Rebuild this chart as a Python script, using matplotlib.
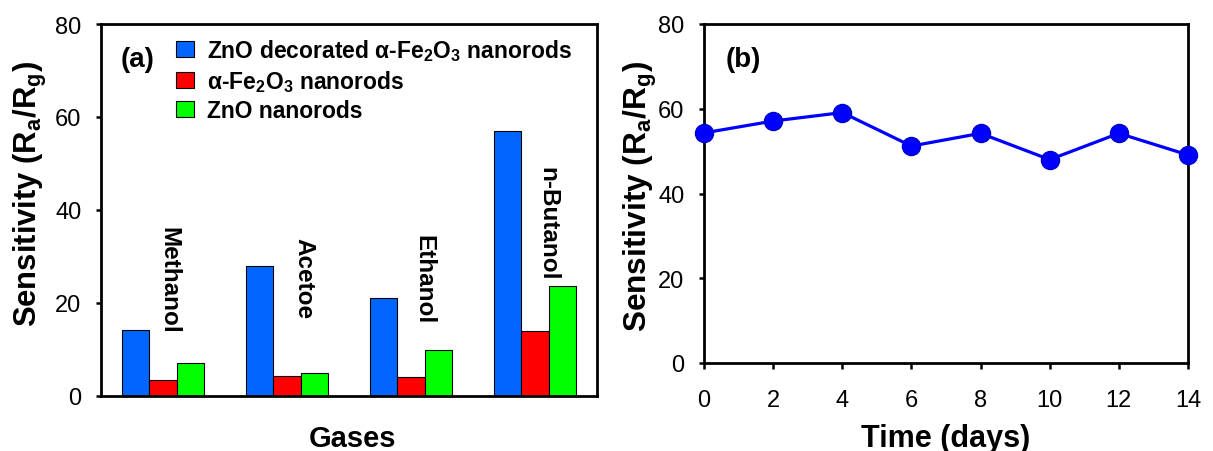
import matplotlib
matplotlib.use("Agg")
import matplotlib.pyplot as plt
import numpy as np

plt.rcParams['font.family'] = ['Liberation Sans', 'DejaVu Sans']
plt.rcParams['mathtext.fontset'] = 'custom'
plt.rcParams['mathtext.rm'] = 'Liberation Sans'
plt.rcParams['mathtext.bf'] = 'Liberation Sans:bold'

# panel (a) data
gases = ['Methanol', 'Acetoe', 'Ethanol', 'n-Butanol']
zno_fe2o3 = [14.3, 28.0, 21.0, 57.0]
fe2o3 = [3.5, 4.2, 4.0, 14.0]
zno = [7.0, 5.0, 10.0, 23.7]
series_labels = [r'ZnO decorated α-Fe$_\mathbf{2}$O$_\mathbf{3}$ nanorods',
                 r'α-Fe$_\mathbf{2}$O$_\mathbf{3}$ nanorods',
                 'ZnO nanorods']

# panel (b) data
days = [0, 2, 4, 6, 8, 10, 12, 14]
sensitivity = [54.3, 57.1, 59.1, 51.2, 54.2, 48.0, 54.2, 49.1]

colors = ['#0066FF', '#FF0000', '#00FF00']
W, H = 1213, 452
fig = plt.figure(figsize=(W / 100, H / 100), dpi=100)

ylab = r'Sensitivity (R$_\mathbf{a}$/R$_\mathbf{g}$)'

# ---- panel (a): grouped bars
ax1 = fig.add_axes([101 / W, 1 - 397 / H, 496 / W, 372 / H])
x = np.arange(len(gases))
bw = 0.22
for i, (vals, c, lab) in enumerate(zip([zno_fe2o3, fe2o3, zno], colors, series_labels)):
    ax1.bar(x + (i - 1) * bw, vals, bw, color=c, edgecolor='black', linewidth=0.8, label=lab)

# rotated gas names above groups
text_dx = [0.045, 0.14, 0.105, 0.105]
text_top = [36.6, 34.2, 34.8, 49.5]
for xi, name, dx, top in zip(x, gases, text_dx, text_top):
    ax1.text(xi + dx, top, name, rotation=-90, ha='center', va='top',
             fontsize=17.5, fontweight='bold')

ax1.set_xlim(-0.5, 3.5)
ax1.set_ylim(0, 80)
ax1.set_yticks([0, 20, 40, 60, 80])
ax1.set_xticks([])
ax1.tick_params(axis='y', direction='out', length=3.6, width=1.8, labelsize=17, pad=10.5)
ax1.legend(loc='upper left', bbox_to_anchor=(0.151, 0.965), frameon=False,
           prop={'weight': 'bold', 'size': 16.5}, borderpad=0, borderaxespad=0,
           handlelength=0.77, handleheight=0.69, handletextpad=0.6, labelspacing=0.22)
ax1.text(0.04, 0.905, '(a)', transform=ax1.transAxes, fontsize=20, fontweight='bold',
         ha='left', va='center')

# ---- panel (b): stability line
ax2 = fig.add_axes([704 / W, 1 - 364 / H, 484 / W, 339 / H])
ax2.plot(days, sensitivity, color='#0000FF', linewidth=2.3, marker='o', markersize=13,
         markerfacecolor='#0000FF', markeredgecolor='#0000CC', clip_on=False, zorder=3)
ax2.set_xlim(0, 14)
ax2.set_ylim(0, 80)
ax2.set_xticks(days)
ax2.set_yticks([0, 20, 40, 60, 80])
ax2.tick_params(axis='y', direction='out', length=3.6, width=1.8, labelsize=17, pad=10.5)
ax2.tick_params(axis='x', direction='out', length=4.3, width=1.8, labelsize=17, pad=14.5)
ax2.text(0.045, 0.897, '(b)', transform=ax2.transAxes, fontsize=20, fontweight='bold',
         ha='left', va='center')

for ax in (ax1, ax2):
    for s in ax.spines.values():
        s.set_linewidth(2)

# axis titles
fig.text(30 / W, 1 - 194 / H, ylab, rotation=90, ha='center', va='center',
         fontsize=22.3, fontweight='bold')
fig.text(640 / W, 1 - 196 / H, ylab, rotation=90, ha='center', va='center',
         fontsize=22.8, fontweight='bold')
fig.text(352 / W, 1 - 439 / H, 'Gases', ha='center', va='center', fontsize=21, fontweight='bold')
fig.text(946 / W, 1 - 439 / H, 'Time (days)', ha='center', va='center', fontsize=22, fontweight='bold')

fig.savefig('out.png', dpi=100)
